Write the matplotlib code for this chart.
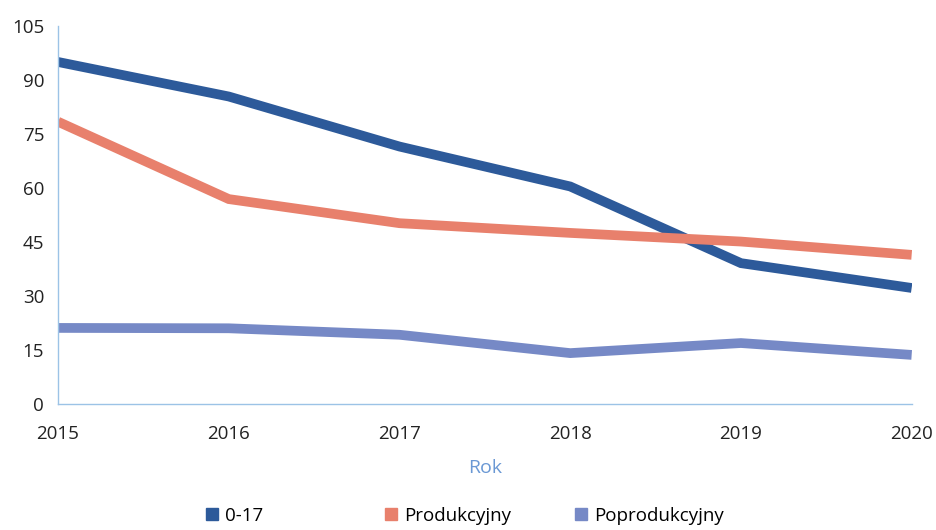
import matplotlib
matplotlib.use("Agg")
import matplotlib.pyplot as plt
from matplotlib.lines import Line2D

years = [2015, 2016, 2017, 2018, 2019, 2020]
young = [95, 85.4, 71.5, 60.4, 39.1, 32.2]
working = [78.4, 56.9, 50.2, 47.5, 45.1, 41.4]
retired = [21.1, 21.0, 19.2, 14.1, 16.9, 13.6]
series_names = ["0-17", "Produkcyjny", "Poprodukcyjny"]
colors = ["#2D5A9A", "#E8806C", "#7689C6"]
y_ticks = [0, 15, 30, 45, 60, 75, 90, 105]

plt.rcParams['font.family'] = ['Open Sans', 'DejaVu Sans']

fig = plt.figure(figsize=(9.36, 5.30), dpi=100)
ax = fig.add_axes([0.062, 0.238, 0.912, 0.713])

for vals, c in zip([young, working, retired], colors):
    ax.plot(years, vals, color=c, lw=7.0, solid_joinstyle='miter', solid_capstyle='butt')

ax.set_xlim(years[0], years[-1])
ax.set_ylim(0, 105)
ax.set_yticks(y_ticks)
ax.set_xticks(years)
ax.tick_params(length=0, labelsize=13.5, colors='#222222')
ax.tick_params(axis='x', pad=15)
ax.tick_params(axis='y', pad=10)
for s in ['top', 'right']:
    ax.spines[s].set_visible(False)
for s in ['left', 'bottom']:
    ax.spines[s].set_color('#9CC3E6')
    ax.spines[s].set_linewidth(1.0)

ax.set_xlabel("Rok", fontsize=14, color='#6A98D4', labelpad=12)

legend_x = [0.216, 0.408, 0.611]
for name, c, lx in zip(series_names, colors, legend_x):
    h = Line2D([0], [0], marker='s', color='none', markerfacecolor=c, markeredgecolor=c,
               markersize=9)
    fig.legend([h], [name], loc='center left', bbox_to_anchor=(lx, 0.027),
               frameon=False, fontsize=13.5, handletextpad=0.2, handlelength=1.0,
               borderpad=0, borderaxespad=0)

fig.savefig("out.png", dpi=100, facecolor='white')
